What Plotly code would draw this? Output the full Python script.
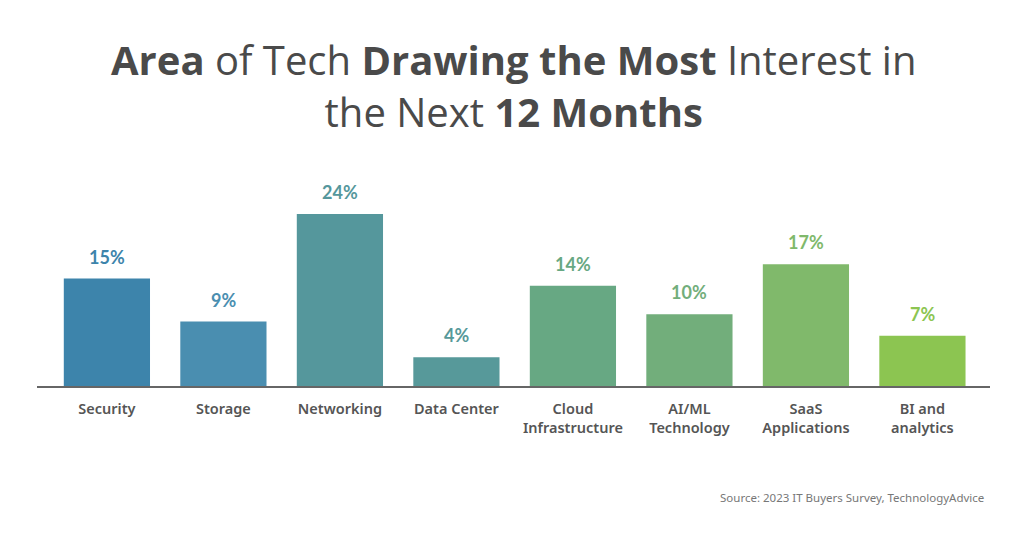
import plotly.graph_objects as go

categories = ["Security", "Storage", "Networking", "Data Center",
              "Cloud<br>Infrastructure", "AI/ML<br>Technology",
              "SaaS<br>Applications", "BI and<br>analytics"]
shares = [15, 9, 24, 4, 14, 10, 17, 7]
bar_colors = ["#3d84ab", "#4a8eb0", "#55979c", "#57999a",
              "#67a883", "#72ae7b", "#80b96b", "#8cc551"]
title_text = ("<b>Area</b> of Tech <b>Drawing the Most</b> Interest in<br>"
              "the Next <b>12 Months</b>")

fig = go.Figure()
fig.add_trace(go.Bar(
    x=categories, y=shares,
    marker=dict(color=bar_colors, line=dict(width=0)),
    width=0.74,
    hoverinfo="skip",
))

# value labels above each bar
for cat, val, col in zip(categories, shares, bar_colors):
    fig.add_annotation(
        x=cat, y=val, text=f"<b>{val}%</b>", showarrow=False,
        yanchor="bottom", yshift=9,
        font=dict(family="Lato", size=18, color=col),
    )

# title as one centred block
fig.add_annotation(
    xref="paper", yref="paper", x=0.5, y=1.40,
    xanchor="center", yanchor="middle", showarrow=False,
    text=title_text,
    font=dict(family="Open Sans", size=40, color="#4a4a4a"),
)

fig.add_annotation(
    xref="paper", yref="paper", x=0.9958, y=-0.519,
    xanchor="right", yanchor="middle", showarrow=False,
    text="Source: 2023 IT Buyers Survey, TechnologyAdvice",
    font=dict(family="Noto Sans", size=11.5, color="#777777"),
)

# page body adds an 8px margin, so the figure is sized to fit the window
fig.update_layout(
    width=1016, height=526,
    paper_bgcolor="white", plot_bgcolor="white",
    margin=dict(l=29, r=34, t=163, b=148),
    showlegend=False,
)
fig.update_xaxes(
    range=[-0.6, 7.58], showgrid=False, zeroline=False,
    showline=True, linecolor="#666666", linewidth=2,
    ticks="", ticklabelstandoff=9,
    tickfont=dict(family="Noto Sans", size=14.5, color="#555555", weight=600),
    fixedrange=True,
)
fig.update_yaxes(range=[0, 30], visible=False, fixedrange=True)

fig.write_html("out.html")
